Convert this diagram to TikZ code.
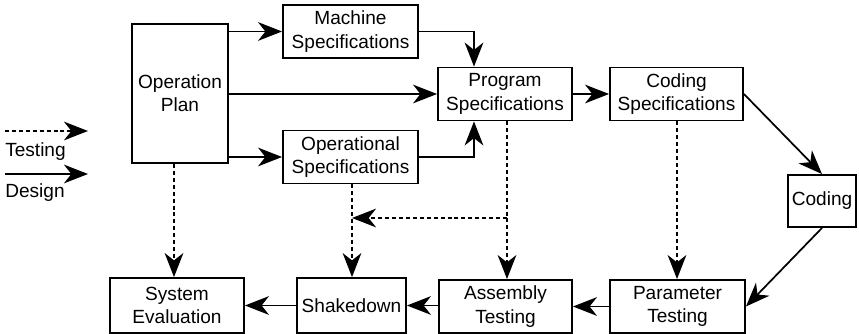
\documentclass[tikz,border=0pt]{standalone}
\usepackage{fontspec}
\setmainfont{Liberation Sans}
\usetikzlibrary{arrows.meta}
\begin{document}
\begin{tikzpicture}[x=0.75pt,y=-0.75pt,
  box/.style={draw,line width=1.4pt,align=center,inner sep=0pt,
    font=\fontsize{14.3}{17.5}\selectfont},
  tip/.style={-{Stealth[length=18pt,width=14pt,inset=5.5pt]}},
  design/.style={tip,line width=1.3pt},
  testing/.style={tip,line width=1.3pt,dash pattern=on 3pt off 2.2pt},
  lbl/.style={font=\fontsize{14.3}{17.5}\selectfont,anchor=west,inner sep=0pt}]
\useasboundingbox (0,0) rectangle (859,334);

% process boxes
\node[box,minimum width={96*0.75pt},minimum height={139*0.75pt}] (plan) at (180,93.5) {Operation\\Plan};
\node[box,minimum width={135*0.75pt},minimum height={53*0.75pt}] (machine) at (350.5,31.5) {Machine\\Specifications};
\node[box,minimum width={135*0.75pt},minimum height={53*0.75pt}] (oper) at (350.5,157) {Operational\\Specifications};
\node[box,minimum width={134*0.75pt},minimum height={53*0.75pt}] (prog) at (505,94) {Program\\Specifications};
\node[box,minimum width={133*0.75pt},minimum height={53*0.75pt}] (cspec) at (676.5,94) {Coding\\Specifications};
\node[box,minimum width={68*0.75pt},minimum height={52*0.75pt}] (coding) at (822,201) {Coding};
\node[box,minimum width={134*0.75pt},minimum height={55*0.75pt}] (syseval) at (177,305.5) {System\\Evaluation};
\node[box,minimum width={109*0.75pt},minimum height={55*0.75pt}] (shake) at (351.5,305.5) {Shakedown};
\node[box,minimum width={133*0.75pt},minimum height={53*0.75pt}] (asm) at (505.5,306.5) {Assembly\\Testing};
\node[box,minimum width={135*0.75pt},minimum height={53*0.75pt}] (param) at (677.5,306.5) {Parameter\\Testing};

% column positions of the joins
\coordinate (pin) at (474,0);
\coordinate (planx) at (174,0);
\coordinate (operx) at (352,0);
\coordinate (progx) at (507,0);
\coordinate (cspecx) at (677,0);
\coordinate (branch) at (507,218);
\coordinate (merge) at (352,218);

% design flow
\draw[design] (plan.east |- machine.west) -- (machine.west);
\draw[design] (plan.east |- prog.west) -- (prog.west);
\draw[design] (plan.east |- oper.west) -- (oper.west);
\draw[design] (machine.east) -| (pin |- prog.north);
\draw[design] (oper.east) -| (pin |- prog.south);
\draw[design] (prog.east) -- (cspec.west);
\draw[design] (cspec.east) -- (coding.north);
\draw[design] (coding.south) -- (param.east);
\draw[design] (param.west) -- (asm.east |- param.west);
\draw[design] (asm.west |- shake.east) -- (shake.east);
\draw[design] (shake.west) -- (syseval.east);

% testing flow
\draw[testing] (planx |- plan.south) -- (planx |- syseval.north);
\draw[testing] (operx |- oper.south) -- (operx |- shake.north);
\draw[testing] (progx |- prog.south) -- (progx |- asm.north);
\draw[testing] (cspecx |- cspec.south) -- (cspecx |- param.north);
\draw[testing] (branch) -- (merge);

% legend
\coordinate (ta) at (5,131);
\coordinate (tb) at (88,131);
\coordinate (da) at (5,174);
\coordinate (db) at (88,174);
\draw[testing] (ta) -- (tb);
\draw[design] (da) -- (db);
\node[lbl] (ltest) at (5,152) {Testing};
\node[lbl] (ldes) at (5,193) {Design};
\end{tikzpicture}
\end{document}
